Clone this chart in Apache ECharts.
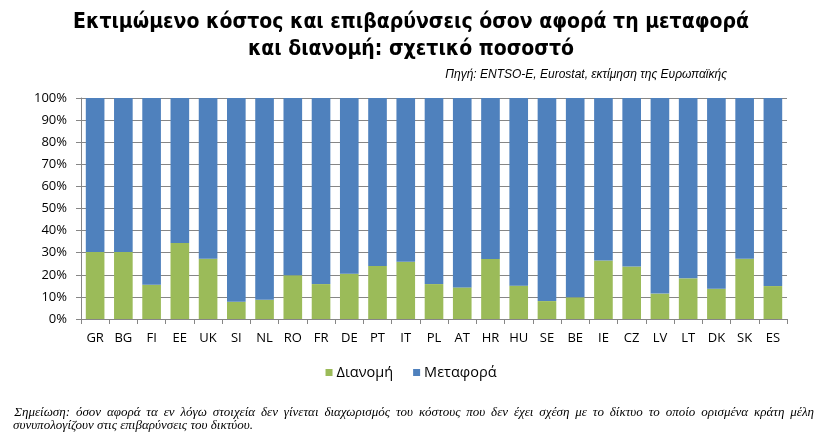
<!DOCTYPE html>
<html><head><meta charset="utf-8">
<script src="https://cdn.jsdelivr.net/npm/echarts@6/dist/echarts.min.js"></script>
<style>html,body{margin:0;padding:0;background:#fff}#c{width:822px;height:432px}</style>
</head><body><div id="c"></div>
<script>
const categories = ['GR','BG','FI','EE','UK','SI','NL','RO','FR','DE','PT','IT','PL','AT','HR','HU','SE','BE','IE','CZ','LV','LT','DK','SK','ES'];
const dianomi = [30.3,30.3,15.5,34.4,27.3,7.8,8.7,19.8,15.8,20.5,24.0,25.9,15.8,14.3,27.1,15.1,8.1,9.8,26.5,23.7,11.5,18.4,13.7,27.3,14.9];
const metafora = [69.7,69.7,84.5,65.6,72.7,92.2,91.3,80.2,84.2,79.5,76.0,74.1,84.2,85.7,72.9,84.9,91.9,90.2,73.5,76.3,88.5,81.6,86.3,72.7,85.1];
const yTicks = [0,10,20,30,40,50,60,70,80,90,100];
const titleText = 'Εκτιμώμενο κόστος και επιβαρύνσεις όσον αφορά τη μεταφορά\nκαι διανομή: σχετικό ποσοστό';
const sourceText = 'Πηγή: ENTSO-E, Eurostat, εκτίμηση της Ευρωπαϊκής';
const noteLine1 = ' Σημείωση: όσον αφορά τα εν λόγω στοιχεία δεν γίνεται διαχωρισμός του κόστους που δεν έχει σχέση με το δίκτυο το οποίο ορισμένα κράτη μέλη';
const noteLine2 = 'συνυπολογίζουν στις επιβαρύνσεις του δικτύου.';

// widen inter-word gaps on the first (justified) note line
const justified1 = noteLine1.replace(/(\S) (\S)/g, '$1 \u2009$2');

const chart = echarts.init(document.getElementById('c'), null, {renderer:'canvas'});
chart.setOption({
  animation:false,
  backgroundColor:'#fff',
  title:[
    {text:titleText,left:'center',top:4,textStyle:{fontFamily:'"Liberation Sans Narrow","DejaVu Sans Condensed",sans-serif',fontWeight:'bold',fontSize:21,lineHeight:27,color:'#000'}},
    {text:sourceText,right:90,top:64,textStyle:{fontFamily:'"Liberation Sans Narrow",sans-serif',fontStyle:'italic',fontWeight:'normal',fontSize:12,color:'#000'}},
    {text:justified1,left:6,top:401,textStyle:{fontFamily:'"Liberation Serif",serif',fontStyle:'italic',fontWeight:'normal',fontSize:13,color:'#000'}},
    {text:noteLine2,left:8,top:414,textStyle:{fontFamily:'"Liberation Serif",serif',fontStyle:'italic',fontWeight:'normal',fontSize:13,color:'#000'}}
  ],
  legend:{
    data:['Διανομή','Μεταφορά'],left:'center',top:360,itemWidth:7,itemHeight:7,itemGap:20,icon:'rect',
    textStyle:{fontFamily:'"Open Sans",sans-serif',fontSize:14.5,color:'#000',padding:[0,0,0,-1]}
  },
  grid:{left:81,right:35,top:98,bottom:113,containLabel:false},
  xAxis:{
    type:'category',data:categories,boundaryGap:true,
    axisLine:{lineStyle:{color:'#868686'}},
    axisTick:{show:true,alignWithLabel:false,length:5,lineStyle:{color:'#868686'}},
    axisLabel:{color:'#000',fontFamily:'"Open Sans",sans-serif',fontSize:13,margin:13,interval:0}
  },
  yAxis:{
    type:'value',min:0,max:100,interval:10,
    axisLine:{show:true,lineStyle:{color:'#868686'}},
    axisTick:{show:true,length:5,lineStyle:{color:'#868686'}},
    splitLine:{show:true,lineStyle:{color:'#868686',width:1}},
    axisLabel:{formatter:'{value}%',color:'#000',fontFamily:'"Open Sans",sans-serif',fontSize:13,margin:14}
  },
  series:[
    {name:'Διανομή',type:'bar',stack:'s',data:dianomi,barCategoryGap:'34%',itemStyle:{color:'#9BBB59'}},
    {name:'Μεταφορά',type:'bar',stack:'s',data:metafora,barCategoryGap:'34%',itemStyle:{color:'#4F81BD'}}
  ]
});
</script></body></html>
